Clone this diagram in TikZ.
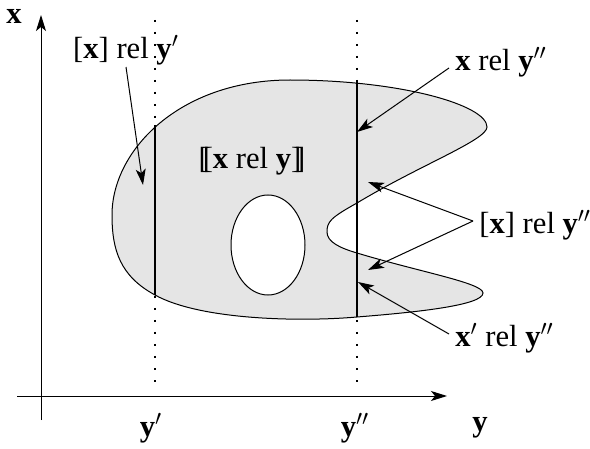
\documentclass[tikz,border=0pt]{standalone}
\usepackage{fontspec}
\setmainfont{Liberation Serif}
\usepackage{tikz}
\usetikzlibrary{arrows.meta}

\begin{document}
\begin{tikzpicture}[
    x=0.5pt, y=-0.5pt,
    font=\fontsize{15.3}{18}\selectfont,
    axis/.style={line width=0.5pt, -{Stealth[length=8pt, width=5pt, inset=2pt]}},
    ptr/.style={line width=0.5pt, -{Stealth[length=8pt, width=5pt, inset=2pt]}},
    guide/.style={line width=0.6pt, dash pattern=on 1pt off 5pt},
    cut/.style={line width=1.2pt},
    region/.style={draw, line width=0.5pt, fill=black!10},
    lbl/.style={inner sep=3pt}
  ]
    \useasboundingbox (0,0) rectangle (590,449);

    % the relation as a region of the plane
    \path[region, even odd rule]
      (112,215) .. controls (112,150) and (180,80) .. (290,80)
      .. controls (400,80) and (487,105) .. (487,127)
      .. controls (487,140) and (420,165) .. (357,203)
      .. controls (330,218) and (327,222) .. (327,232)
      .. controls (327,242) and (340,248) .. (357,253)
      .. controls (420,272) and (483,283) .. (483,293)
      .. controls (483,305) and (420,312) .. (357,317)
      .. controls (300,322) and (200,320) .. (155,295)
      .. controls (120,276) and (112,250) .. (112,215) -- cycle
      (268,245) ellipse [x radius=37, y radius=50];

    \coordinate (ybot) at (41,420);
    \coordinate (ytop) at (41,15);
    \coordinate (xleft) at (17,396);
    \coordinate (xright) at (447,396);
    \draw[axis] (ybot) -- (ytop);
    \draw[axis] (xleft) -- (xright);

    \coordinate (g1t) at (155,20);
    \coordinate (g1b) at (155,388);
    \coordinate (g2t) at (357,20);
    \coordinate (g2b) at (357,388);
    \draw[guide] (g1t) -- (g1b);
    \draw[guide] (g2t) -- (g2b);

    \coordinate (c1t) at (155,125);
    \coordinate (c1b) at (155,295);
    \coordinate (c2t) at (357,82);
    \coordinate (c2b) at (357,317);
    \draw[cut] (c1t) -- (c1b);
    \draw[cut] (c2t) -- (c2b);

    \node[lbl] (xlab) at (14,16) {\textbf{x}};
    \node[lbl] (ylab) at (480,428) {\textbf{y}};
    \node[lbl] (y1lab) at (151,428) {\textbf{y}$'$};
    \node[lbl] (y2lab) at (355,428) {\textbf{y}$''$};

    \node[lbl] (sem) at (252,161) {[\kern-.2em[\textbf{x} rel \textbf{y}]\kern-.2em]};
    \node[lbl] (cls1) at (126,50) {[\textbf{x}] rel \textbf{y}$'$};
    \node[lbl, anchor=west] (rel2) at (449,62) {\textbf{x} rel \textbf{y}$''$};
    \node[lbl, anchor=west] (cls2) at (473,225) {[\textbf{x}] rel \textbf{y}$''$};
    \node[lbl, anchor=west] (rel3) at (449,338) {\textbf{x}$'$ rel \textbf{y}$''$};

    \coordinate (t1) at (143,185);
    \coordinate (t2) at (357,132);
    \coordinate (t3) at (368,182);
    \coordinate (t4) at (368,270);
    \coordinate (t5) at (358,282);

    \draw[ptr] ([yshift=2pt]cls1.south) -- (t1);
    \draw[ptr] ([yshift=-3pt]rel2.west) -- (t2);
    \draw[ptr] ([yshift=2pt]cls2.west) -- (t3);
    \draw[ptr] ([yshift=2pt]cls2.west) -- (t4);
    \draw[ptr] ([yshift=2pt]rel3.west) -- (t5);
\end{tikzpicture}
\end{document}
